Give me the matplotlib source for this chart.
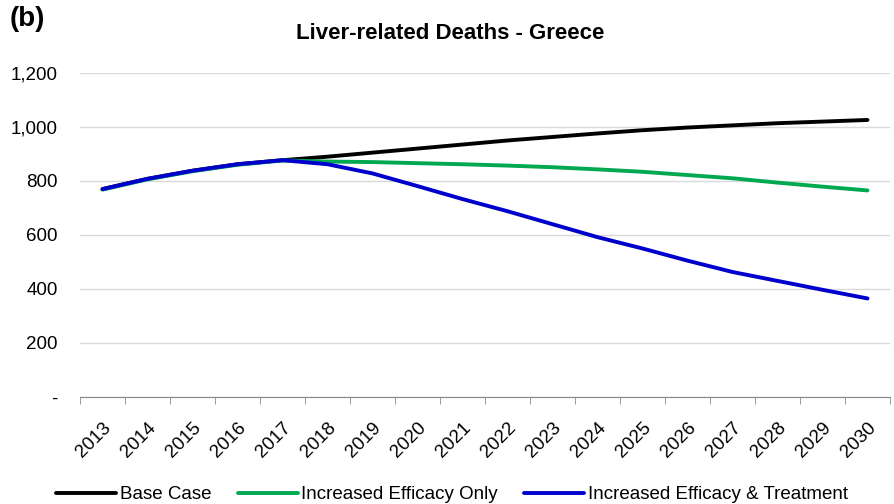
import numpy as np
import matplotlib.pyplot as plt
from matplotlib.ticker import FixedLocator, FuncFormatter

plt.rcParams['font.family'] = ['Liberation Sans', 'DejaVu Sans']

years = [str(y) for y in range(2013, 2031)]
base_case = [770, 808, 838, 862, 877, 890, 905, 920, 935, 950, 963, 976,
             988, 998, 1006, 1014, 1020, 1026]
efficacy_only = [768, 806, 836, 860, 876, 872, 870, 866, 862, 857, 851, 843,
                 834, 822, 810, 794, 779, 765]
efficacy_treatment = [770, 808, 838, 862, 877, 862, 828, 781, 733, 688, 640, 592,
                      550, 505, 463, 430, 397, 365]

series = [
    ('Base Case', base_case, '#000000'),
    ('Increased Efficacy Only', efficacy_only, '#00A850'),
    ('Increased Efficacy & Treatment', efficacy_treatment, '#0000CC'),
]

fig = plt.figure(figsize=(8.95, 5.04), dpi=100)
ax = fig.add_axes([0.0894, 0.2123, 0.905, 0.6429])

x = np.arange(len(years))
for label, vals, color in series:
    ax.plot(x, vals, color=color, lw=2.8, label=label, solid_capstyle='round')

ax.set_xlim(-0.5, len(years) - 0.5)
ax.set_ylim(0, 1200)
ax.set_yticks(range(0, 1201, 200))
ax.yaxis.set_major_formatter(FuncFormatter(lambda v, p: '-' if v == 0 else f'{int(v):,}'))
ax.yaxis.grid(True, color='#d9d9d9', lw=1)
ax.set_axisbelow(True)

ax.set_xticks(x)
ax.set_xticklabels(years, rotation=45, ha='right', rotation_mode='anchor')
ax.xaxis.set_minor_locator(FixedLocator(np.arange(-0.5, len(years), 1)))
ax.tick_params(axis='x', which='major', length=0, pad=16, labelsize=13.5)
ax.tick_params(axis='x', which='minor', length=5, color='#888888', direction='out')
ax.tick_params(axis='y', length=0, labelsize=13.5, pad=16)

for s in ['top', 'right', 'left']:
    ax.spines[s].set_visible(False)
ax.spines['bottom'].set_color('#888888')

fig.text(0.503, 0.934, 'Liver-related Deaths - Greece', ha='center', va='center',
         fontsize=16, fontweight='bold')
fig.text(0.011, 0.962, '(b)', ha='left', va='center', fontsize=20, fontweight='bold')

fig.legend(loc='lower center', bbox_to_anchor=(0.505, -0.032), ncol=3, frameon=False,
           fontsize=13.5, handlelength=3.2, handletextpad=0.2, columnspacing=1.4)

fig.savefig('out.png', dpi=100)
